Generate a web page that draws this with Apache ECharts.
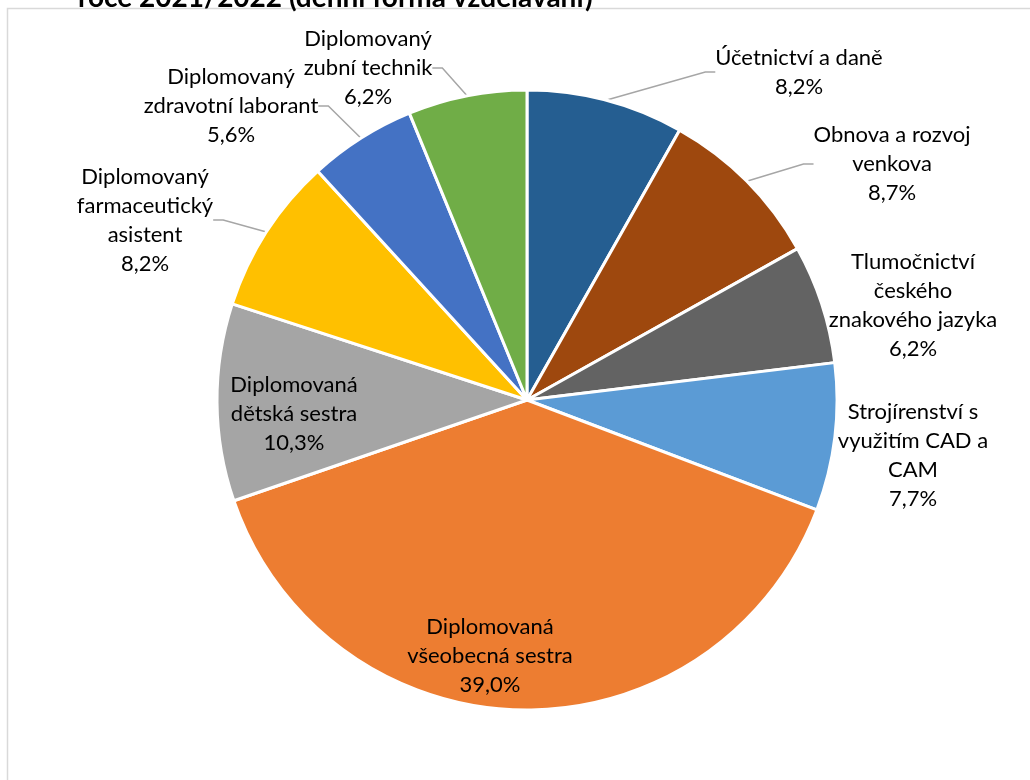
<!DOCTYPE html>
<html><head><meta charset="utf-8">
<script src="https://cdn.jsdelivr.net/npm/echarts@6/dist/echarts.min.js"></script>
<style>html,body{margin:0;padding:0;background:#fff}#c{width:1030px;height:780px}</style>
</head><body><div id="c"></div>
<script>
const categories = [
  'Účetnictví a daně',
  'Obnova a rozvoj\nvenkova',
  'Tlumočnictví\nčeského\nznakového jazyka',
  'Strojírenství s\nvyužitím CAD a\nCAM',
  'Diplomovaná\nvšeobecná sestra',
  'Diplomovaná\ndětská sestra',
  'Diplomovaný\nfarmaceutický\nasistent',
  'Diplomovaný\nzdravotní laborant',
  'Diplomovaný\nzubní technik'
];
const values = [8.2, 8.7, 6.2, 7.7, 39.0, 10.3, 8.2, 5.6, 6.2];
const colors = ['#255E91', '#9E480E', '#636363', '#5B9BD5', '#ED7D31', '#A5A5A5', '#FFC000', '#4472C4', '#70AD47'];
const labelPos = [[799,72],[892,164],[913,305],[913,455],[490,656],[294,414],[145,220],[231,106],[368,68]];
const showLine = [true, true, false, false, false, false, true, true, true];

const chart = echarts.init(document.getElementById('c'));
chart.setOption({
  animation: false,
  graphic: [
    { type: 'rect', shape: { x: 7.5, y: 8.5, width: 1100, height: 900 }, style: { fill: 'none', stroke: '#d9d9d9', lineWidth: 1.5 }, z: -1 },
    { type: 'text', left: 78, top: -16, style: { text: 'roce 2021/2022 (denní forma vzdělávání)', font: 'bold 28px Lato', fill: '#000' } }
  ],
  series: [{
    type: 'pie',
    center: [527, 400],
    radius: 310,
    startAngle: 90,
    clockwise: true,
    itemStyle: { borderColor: '#fff', borderWidth: 3 },
    label: {
      show: true,
      formatter: p => p.name + '\n' + p.value.toFixed(1).replace('.', ',') + '%',
      fontFamily: 'Lato', fontSize: 22, lineHeight: 29, color: '#000', align: 'center'
    },
    labelLine: { show: true, length: 10, length2: 10, lineStyle: { color: '#a6a6a6', width: 1.5 } },
    labelLayout: function (p) {
      const pos = labelPos[p.dataIndex];
      return { x: pos[0], y: pos[1], align: 'center', verticalAlign: 'middle' };
    },
    data: categories.map((c, i) => ({
      name: c, value: values[i],
      itemStyle: { color: colors[i] },
      labelLine: { show: showLine[i] }
    }))
  }]
});
</script></body></html>
